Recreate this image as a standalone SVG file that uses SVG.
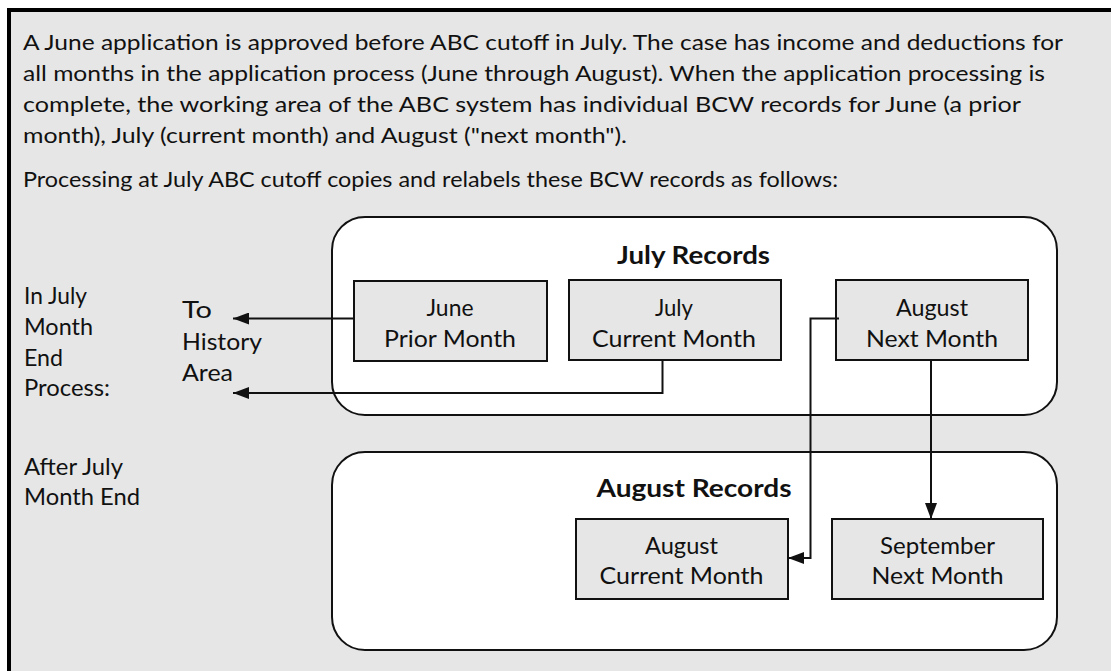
<svg xmlns="http://www.w3.org/2000/svg" width="1111" height="671" viewBox="0 0 1111 671">
<style>
.t{font-family:Lato,"Liberation Sans",sans-serif;fill:#111;}
.main{font-size:21px;}
.lab{font-size:23px;}
.box{font-size:24px;text-anchor:middle;}
.hd{font-size:24px;font-weight:bold;text-anchor:middle;}
.cont{fill:#fff;stroke:#111;stroke-width:2;}
.rec{fill:#e6e6e6;stroke:#111;stroke-width:2;}
.con{fill:none;stroke:#111;stroke-width:2;}
</style>
<defs>
<marker id="ah" markerUnits="userSpaceOnUse" markerWidth="16" markerHeight="12" refX="16" refY="6" orient="auto">
<path d="M0,0 L16,6 L0,12 Z" fill="#111"/>
</marker>
</defs>
<rect x="9" y="10" width="1120" height="680" fill="#e6e6e6" stroke="#000" stroke-width="4"/>
<g id="intro">
<text class="t main" x="23" y="50" textLength="1040" lengthAdjust="spacingAndGlyphs">A June application is approved before ABC cutoff in July. The case has income and deductions for</text>
<text class="t main" x="23" y="81" textLength="1022" lengthAdjust="spacingAndGlyphs">all months in the application process (June through August). When the application processing is</text>
<text class="t main" x="23" y="112" textLength="998" lengthAdjust="spacingAndGlyphs">complete, the working area of the ABC system has individual BCW records for June (a prior</text>
<text class="t main" x="23" y="143" textLength="604" lengthAdjust="spacingAndGlyphs">month), July (current month) and August ("next month").</text>
<text class="t main" x="23" y="187" textLength="815" lengthAdjust="spacingAndGlyphs">Processing at July ABC cutoff copies and relabels these BCW records as follows:</text>
</g>
<g id="label-in-july">
<text class="t lab" x="24" y="304" textLength="63" lengthAdjust="spacingAndGlyphs">In July</text>
<text class="t lab" x="24" y="335" textLength="69" lengthAdjust="spacingAndGlyphs">Month</text>
<text class="t lab" x="24" y="366" textLength="39" lengthAdjust="spacingAndGlyphs">End</text>
<text class="t lab" x="24" y="396" textLength="86" lengthAdjust="spacingAndGlyphs">Process:</text>
</g>
<g id="label-after-july">
<text class="t lab" x="24" y="475" textLength="99" lengthAdjust="spacingAndGlyphs">After July</text>
<text class="t lab" x="24" y="505" textLength="116" lengthAdjust="spacingAndGlyphs">Month End</text>
</g>
<g id="history-area">
<text class="t lab" x="182" y="318" textLength="30" lengthAdjust="spacingAndGlyphs">To</text>
<text class="t lab" x="182" y="350" textLength="80" lengthAdjust="spacingAndGlyphs">History</text>
<text class="t lab" x="182" y="381" textLength="51" lengthAdjust="spacingAndGlyphs">Area</text>
</g>
<g id="july-records">
<rect class="cont" x="332" y="217" width="725" height="198" rx="33" ry="33"/>
<text class="t hd" x="693.5" y="264" textLength="153" lengthAdjust="spacingAndGlyphs">July Records</text>
</g>
<g id="august-records">
<rect class="cont" x="332" y="452" width="725" height="198" rx="33" ry="33"/>
<text class="t hd" x="694" y="497" textLength="195" lengthAdjust="spacingAndGlyphs">August Records</text>
</g>
<g id="june-prior">
<rect class="rec" x="354" y="281" width="193" height="80"/>
<text class="t box" x="450" y="316" textLength="47" lengthAdjust="spacingAndGlyphs">June</text>
<text class="t box" x="450" y="347" textLength="132" lengthAdjust="spacingAndGlyphs">Prior Month</text>
</g>
<g id="july-current">
<rect class="rec" x="569" y="280" width="212" height="80"/>
<text class="t box" x="674" y="316" textLength="38" lengthAdjust="spacingAndGlyphs">July</text>
<text class="t box" x="674" y="347" textLength="164" lengthAdjust="spacingAndGlyphs">Current Month</text>
</g>
<g id="august-next">
<rect class="rec" x="836" y="280" width="192" height="80"/>
<text class="t box" x="932" y="316" textLength="72" lengthAdjust="spacingAndGlyphs">August</text>
<text class="t box" x="932" y="347" textLength="132" lengthAdjust="spacingAndGlyphs">Next Month</text>
</g>
<g id="august-current">
<rect class="rec" x="576" y="519" width="212" height="80"/>
<text class="t box" x="681.5" y="554" textLength="73" lengthAdjust="spacingAndGlyphs">August</text>
<text class="t box" x="681.5" y="584" textLength="164" lengthAdjust="spacingAndGlyphs">Current Month</text>
</g>
<g id="september-next">
<rect class="rec" x="832" y="519" width="211" height="80"/>
<text class="t box" x="937.5" y="554" textLength="115" lengthAdjust="spacingAndGlyphs">September</text>
<text class="t box" x="937.5" y="584" textLength="132" lengthAdjust="spacingAndGlyphs">Next Month</text>
</g>
<g id="connectors">
<path class="con" d="M354,318.5 H233" marker-end="url(#ah)"/>
<path class="con" d="M662.5,360 V393 H233" marker-end="url(#ah)"/>
<path class="con" d="M839,318.5 H810.5 V558 H788" marker-end="url(#ah)"/>
<path class="con" d="M931,360 V519" marker-end="url(#ah)"/>
</g>
</svg>
